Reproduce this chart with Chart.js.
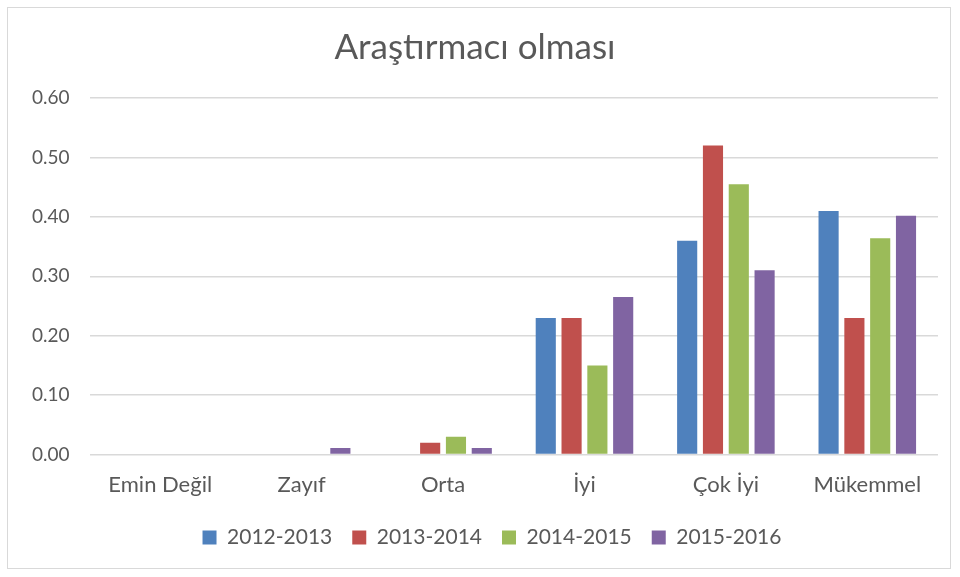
<!DOCTYPE html>
<html>
<head>
<meta charset="utf-8">
<script src="https://cdn.jsdelivr.net/npm/chart.js@4"></script>
<style>
  body { margin: 0; background: #fff; }
  #frame {
    position: absolute; left: 7px; top: 7px;
    width: 942px; height: 560px;
    border: 1px solid #d9d9d9;
  }
  #box { position: absolute; left: 0; top: 0; width: 960px; height: 558px; }
</style>
</head>
<body>
<div id="frame"></div>
<div id="box"><canvas id="chart"></canvas></div>
<script>
// categories and series
const categories = ["Emin Değil", "Zayıf", "Orta", "İyi", "Çok İyi", "Mükemmel"];
const s2012 = [0, 0, 0, 0.23, 0.36, 0.41];
const s2013 = [0, 0, 0.02, 0.23, 0.52, 0.23];
const s2014 = [0, 0, 0.03, 0.15, 0.455, 0.364];
const s2015 = [0, 0.011, 0.011, 0.265, 0.31, 0.402];
const seriesNames = ["2012-2013", "2013-2014", "2014-2015", "2015-2016"];
const colors = ["#4f81bd", "#c0504d", "#9bbb59", "#8064a2"];

const font = "Lato, 'Open Sans', sans-serif";
const gray = "#595959";

const datasets = [s2012, s2013, s2014, s2015].map((vals, i) => ({
  label: seriesNames[i],
  data: vals,
  backgroundColor: colors[i],
  borderWidth: 0,
  categoryPercentage: 0.73,
  barPercentage: 0.78,
}));

// legend sits a bit right of centre in the original
const legendShift = {
  id: "legendShift",
  afterLayout(chart) {
    chart.legend.left += 17;
    chart.legend.right += 17;
  },
};

new Chart(document.getElementById("chart"), {
  type: "bar",
  data: { labels: categories, datasets: datasets },
  plugins: [legendShift],
  options: {
    responsive: true,
    maintainAspectRatio: false,
    animation: false,
    layout: { padding: { left: 12, right: 22, top: 24, bottom: 0 } },
    scales: {
      x: {
        grid: { display: false },
        border: { display: false },
        ticks: { color: gray, font: { family: font, size: 22 }, padding: 9 },
      },
      y: {
        min: 0,
        max: 0.6,
        ticks: {
          stepSize: 0.1,
          color: gray,
          padding: 20,
          font: { family: font, size: 19 },
          callback: (v) => v.toFixed(2),
        },
        grid: { color: "#d9d9d9", lineWidth: 1.5, drawTicks: false },
        border: { display: false },
      },
    },
    plugins: {
      title: {
        display: true,
        text: "Araştırmacı olması",
        color: gray,
        font: { family: font, size: 35, weight: "normal" },
        padding: { top: 3, bottom: 29 },
      },
      legend: {
        position: "bottom",
        labels: {
          color: gray,
          font: { family: font, size: 21 },
          boxWidth: 14,
          boxHeight: 14,
          padding: 20,
        },
      },
      tooltip: { enabled: false },
    },
  },
});
</script>
</body>
</html>
